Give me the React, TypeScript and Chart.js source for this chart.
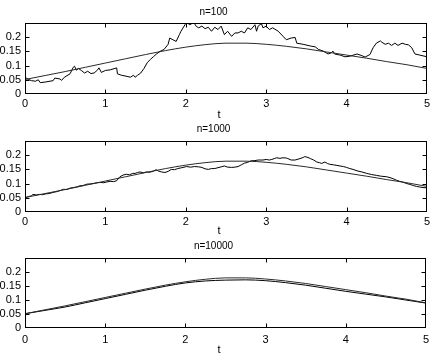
import React, { useEffect, useRef } from 'react';
import { Chart, registerables } from 'chart.js';

Chart.register(...registerables);

const FONT = '"Liberation Sans", Arial, Helvetica, sans-serif';

// Axis ticks
const xTicks = [0, 1, 2, 3, 4, 5];
const yTicks = [0, 0.05, 0.1, 0.15, 0.2];
const xLabel = 't';

// Smooth reference curve (same in all panels)
const smoothT = [0, 0.25, 0.5, 0.75, 1, 1.25, 1.5, 1.75, 2, 2.25, 2.5, 2.75, 3, 3.25, 3.5, 3.75, 4, 4.25, 4.5, 4.75, 5];
const smoothV = [0.051, 0.065, 0.079, 0.094, 0.109, 0.124, 0.139, 0.153, 0.165, 0.174, 0.179, 0.179, 0.175, 0.168, 0.159, 0.148, 0.137, 0.126, 0.114, 0.103, 0.09];

// n=100 path
const n100T = [0, 0.04, 0.08, 0.13, 0.165, 0.19, 0.25, 0.35, 0.37, 0.435, 0.455, 0.49, 0.56, 0.6, 0.615, 0.64, 0.665, 0.7, 0.74, 0.78, 0.82, 0.86, 0.9, 0.92, 0.95, 1, 1.06, 1.14, 1.15, 1.2, 1.27, 1.31, 1.35, 1.37, 1.4, 1.44, 1.48, 1.52, 1.56, 1.6, 1.64, 1.68, 1.73, 1.78, 1.8, 1.84, 1.88, 1.92, 1.94, 1.99, 2.01, 2.05, 2.1, 2.13, 2.16, 2.2, 2.24, 2.28, 2.32, 2.36, 2.4, 2.44, 2.48, 2.52, 2.57, 2.61, 2.65, 2.69, 2.73, 2.77, 2.81, 2.86, 2.88, 2.9, 2.94, 2.96, 3, 3.04, 3.08, 3.15, 3.21, 3.25, 3.31, 3.36, 3.38, 3.46, 3.55, 3.61, 3.65, 3.71, 3.77, 3.81, 3.83, 3.85, 3.92, 3.98, 4.04, 4.13, 4.19, 4.23, 4.29, 4.33, 4.37, 4.42, 4.44, 4.48, 4.52, 4.56, 4.6, 4.64, 4.69, 4.73, 4.77, 4.81, 4.85, 4.91, 5];
const n100V = [0.059, 0.052, 0.047, 0.045, 0.05, 0.04, 0.042, 0.047, 0.056, 0.053, 0.048, 0.059, 0.071, 0.094, 0.098, 0.084, 0.09, 0.083, 0.074, 0.08, 0.072, 0.074, 0.084, 0.092, 0.076, 0.083, 0.085, 0.092, 0.071, 0.066, 0.062, 0.059, 0.066, 0.059, 0.066, 0.074, 0.09, 0.11, 0.122, 0.132, 0.142, 0.15, 0.157, 0.175, 0.197, 0.191, 0.185, 0.209, 0.221, 0.244, 0.252, 0.244, 0.252, 0.238, 0.233, 0.239, 0.23, 0.235, 0.221, 0.235, 0.227, 0.239, 0.209, 0.221, 0.203, 0.215, 0.215, 0.221, 0.215, 0.233, 0.227, 0.244, 0.221, 0.239, 0.248, 0.233, 0.239, 0.227, 0.233, 0.221, 0.203, 0.191, 0.197, 0.199, 0.179, 0.175, 0.169, 0.166, 0.157, 0.151, 0.141, 0.145, 0.151, 0.141, 0.137, 0.131, 0.133, 0.141, 0.135, 0.13, 0.139, 0.163, 0.179, 0.187, 0.182, 0.175, 0.179, 0.171, 0.179, 0.171, 0.179, 0.175, 0.173, 0.163, 0.141, 0.137, 0.131];

// n=1000 path
const n1000T = [0, 0.04, 0.08, 0.1, 0.14, 0.18, 0.22, 0.26, 0.3, 0.35, 0.4, 0.44, 0.48, 0.52, 0.56, 0.6, 0.64, 0.68, 0.72, 0.77, 0.82, 0.86, 0.9, 0.94, 0.98, 1.02, 1.06, 1.1, 1.14, 1.18, 1.22, 1.26, 1.3, 1.34, 1.37, 1.4, 1.43, 1.47, 1.51, 1.55, 1.6, 1.63, 1.66, 1.7, 1.74, 1.78, 1.82, 1.86, 1.9, 1.95, 2.01, 2.06, 2.11, 2.16, 2.2, 2.24, 2.28, 2.32, 2.36, 2.4, 2.44, 2.48, 2.52, 2.57, 2.61, 2.65, 2.69, 2.73, 2.77, 2.81, 2.86, 2.9, 2.96, 3, 3.04, 3.07, 3.1, 3.13, 3.17, 3.21, 3.25, 3.27, 3.31, 3.36, 3.42, 3.46, 3.48, 3.52, 3.55, 3.59, 3.63, 3.66, 3.69, 3.73, 3.76, 3.79, 3.84, 3.88, 3.92, 3.96, 4, 4.04, 4.08, 4.13, 4.19, 4.25, 4.31, 4.37, 4.43, 4.5, 4.54, 4.58, 4.62, 4.66, 4.7, 4.75, 4.79, 4.83, 4.87, 4.91, 4.95, 5];
const n1000V = [0.05, 0.054, 0.057, 0.062, 0.06, 0.062, 0.061, 0.064, 0.065, 0.069, 0.072, 0.076, 0.08, 0.079, 0.084, 0.086, 0.088, 0.092, 0.093, 0.098, 0.099, 0.101, 0.103, 0.104, 0.103, 0.106, 0.108, 0.107, 0.11, 0.124, 0.13, 0.133, 0.131, 0.136, 0.136, 0.139, 0.141, 0.138, 0.141, 0.14, 0.144, 0.149, 0.144, 0.141, 0.139, 0.143, 0.15, 0.149, 0.153, 0.156, 0.16, 0.158, 0.16, 0.159, 0.157, 0.152, 0.15, 0.153, 0.153, 0.156, 0.159, 0.162, 0.158, 0.157, 0.158, 0.16, 0.166, 0.172, 0.175, 0.18, 0.181, 0.183, 0.183, 0.185, 0.183, 0.185, 0.188, 0.191, 0.189, 0.191, 0.19, 0.188, 0.183, 0.183, 0.188, 0.192, 0.195, 0.192, 0.188, 0.183, 0.176, 0.174, 0.171, 0.176, 0.171, 0.168, 0.166, 0.164, 0.162, 0.16, 0.157, 0.153, 0.15, 0.145, 0.141, 0.136, 0.132, 0.129, 0.126, 0.124, 0.121, 0.117, 0.112, 0.108, 0.105, 0.1, 0.097, 0.093, 0.09, 0.088, 0.086, 0.085];

// n=10000 path
const n10000T = [0, 0.25, 0.5, 0.75, 1, 1.25, 1.5, 1.75, 2, 2.25, 2.5, 2.75, 3, 3.25, 3.5, 3.75, 4, 4.25, 4.5, 4.75, 5];
const n10000V = [0.051, 0.063, 0.075, 0.09, 0.105, 0.12, 0.135, 0.149, 0.161, 0.168, 0.171, 0.172, 0.169, 0.162, 0.153, 0.142, 0.131, 0.121, 0.111, 0.1, 0.089];

const titles = ['n=100', 'n=1000', 'n=10000'];

type Panel = {
  title: string;
  t: number[];
  v: number[];
  top: number;
  height: number;
  plotTop: number;
  plotBottom: number;
  titleCenter: number;
  tickPad: number;
  labelY: number;
};

const panels: Panel[] = [
  { title: titles[0], t: n100T, v: n100V, top: 0, height: 118, plotTop: 23, plotBottom: 94, titleCenter: 12, tickPad: 3, labelY: 115 },
  { title: titles[1], t: n1000T, v: n1000V, top: 118, height: 118, plotTop: 23, plotBottom: 94, titleCenter: 11, tickPad: 3, labelY: 113 },
  { title: titles[2], t: n10000T, v: n10000V, top: 236, height: 122, plotTop: 22, plotBottom: 92, titleCenter: 10, tickPad: 5, labelY: 114 },
];

const pts = (t: number[], v: number[]) => t.map((x, i) => ({ x, y: v[i] }));

const framePlugin = {
  id: 'frame',
  afterDatasetsDraw(chart: any) {
    const { ctx, chartArea, scales } = chart;
    const L = Math.round(chartArea.left) + 0.5;
    const R = Math.round(chartArea.right) - 0.5;
    const T = Math.round(chartArea.top) + 0.5;
    const B = Math.round(chartArea.bottom) - 0.5;
    ctx.save();
    ctx.strokeStyle = '#000';
    ctx.lineWidth = 1;
    ctx.strokeRect(L, T, R - L, B - T);
    ctx.beginPath();
    for (const v of xTicks.slice(1, -1)) {
      const px = Math.round(scales.x.getPixelForValue(v)) + 0.5;
      ctx.moveTo(px, B); ctx.lineTo(px, B - 4);
      ctx.moveTo(px, T); ctx.lineTo(px, T + 4);
    }
    for (const v of yTicks.slice(1)) {
      const py = Math.round(scales.y.getPixelForValue(v)) + 0.5;
      ctx.moveTo(L, py); ctx.lineTo(L + 4, py);
      ctx.moveTo(R, py); ctx.lineTo(R - 4, py);
    }
    ctx.stroke();
    ctx.restore();
  },
};

function PanelChart({ p }: { p: Panel }) {
  const ref = useRef<HTMLCanvasElement | null>(null);
  useEffect(() => {
    if (!ref.current) return;
    const titleLH = 12;
    const padTop = p.titleCenter - titleLH / 2;
    const padBottom = p.plotTop - padTop - titleLH;
    const labelPlugin = {
      id: 'xlabel',
      afterDraw(chart: any) {
        const ctx = chart.ctx;
        ctx.save();
        ctx.fillStyle = '#000';
        ctx.font = `11px ${FONT}`;
        ctx.textAlign = 'center';
        ctx.textBaseline = 'middle';
        ctx.fillText(xLabel, 219, p.labelY);
        ctx.restore();
      },
    };
    const chart = new Chart(ref.current, {
      type: 'line',
      data: {
        datasets: [
          {
            data: pts(smoothT, smoothV),
            borderColor: '#2a2a2a',
            borderWidth: 1,
            pointRadius: 0,
            cubicInterpolationMode: 'monotone',
            fill: false,
          },
          {
            data: pts(p.t, p.v),
            borderColor: '#000',
            borderWidth: 1,
            pointRadius: 0,
            tension: 0,
            cubicInterpolationMode: p.t === n10000T ? 'monotone' : 'default',
            fill: false,
          },
        ],
      },
      options: {
        animation: false,
        responsive: true,
        maintainAspectRatio: false,
        events: [],
        layout: { padding: { left: 0, right: 7, top: 0, bottom: 0 } },
        plugins: {
          legend: { display: false },
          tooltip: { enabled: false },
          title: {
            display: true,
            text: p.title,
            color: '#000',
            font: { family: FONT, size: 10, weight: 'normal', lineHeight: 1.2 },
            padding: { top: padTop, bottom: padBottom },
          },
        },
        scales: {
          x: {
            type: 'linear',
            min: 0,
            max: 5,
            grid: { display: false, drawTicks: false },
            border: { display: false },
            afterBuildTicks: (s: any) => { s.ticks = xTicks.map((v) => ({ value: v })); },
            afterFit: (s: any) => { s.height = p.height - p.plotBottom; },
            ticks: {
              color: '#000',
              font: { family: FONT, size: 11 },
              padding: p.tickPad,
              maxRotation: 0,
              autoSkip: false,
              callback: (v: any) => String(v),
            },
          },
          y: {
            type: 'linear',
            min: 0,
            max: 0.25,
            grid: { display: false, drawTicks: false },
            border: { display: false },
            afterBuildTicks: (s: any) => { s.ticks = yTicks.map((v) => ({ value: v })); },
            afterFit: (s: any) => { s.width = 25; },
            ticks: {
              color: '#000',
              font: { family: FONT, size: 11 },
              padding: 4,
              autoSkip: false,
              callback: (v: any) => String(v),
            },
          },
        },
      } as any,
      plugins: [framePlugin, labelPlugin],
    });
    return () => chart.destroy();
  }, [p]);
  return (
    <div style={{ position: 'absolute', left: 0, top: p.top, width: 434, height: p.height }}>
      <canvas ref={ref} />
    </div>
  );
}

export default function App() {
  return (
    <div style={{ position: 'absolute', left: 0, top: 0, width: 434, height: 358, background: '#fff' }}>
      {panels.map((p) => (
        <PanelChart key={p.title} p={p} />
      ))}
    </div>
  );
}
